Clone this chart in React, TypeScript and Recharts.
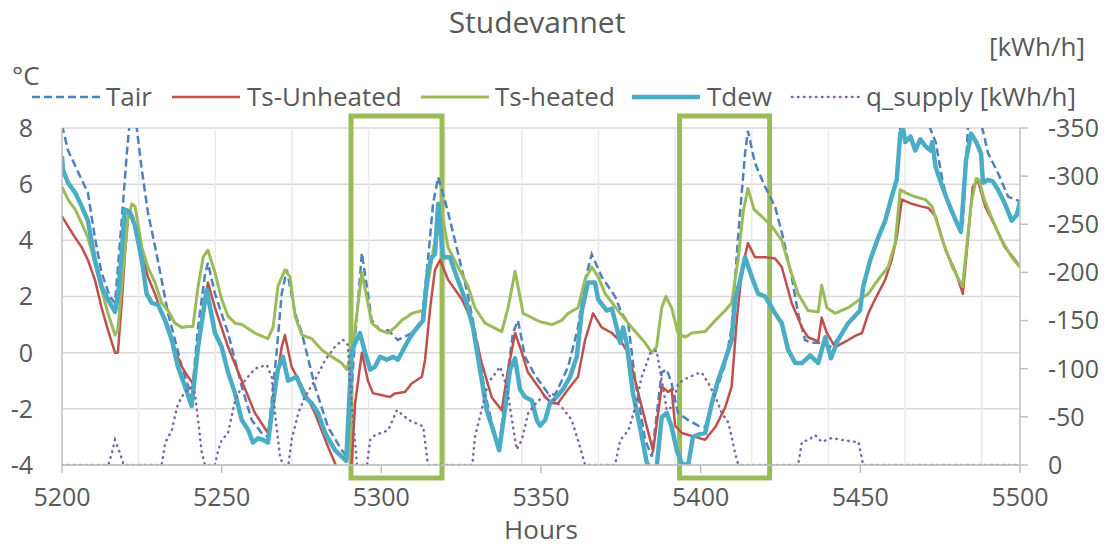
import React from 'react';
import {
    LineChart, Line, XAxis, YAxis, CartesianGrid, ReferenceArea, ReferenceLine
} from 'recharts';

// hours on x
const hourTicks = [5200, 5250, 5300, 5350, 5400, 5450, 5500];
const tempTicks = [-4, -2, 0, 2, 4, 6, 8];
const supplyTicks = [-350, -300, -250, -200, -150, -100, -50, 0];
const dayLines = [5224, 5248, 5272, 5296, 5320, 5344, 5368, 5392, 5416, 5440, 5464, 5488];
const highlights = [[5290.5, 5319.0], [5393.4, 5421.6]];

const tair = [
    [5200, 8.1], [5201.9, 7.2], [5206.2, 6.15], [5208.1, 5.7], [5210.3, 4.1], [5212.4, 2.84], [5215, 2.0],
    [5216.6, 1.77], [5218.7, 4.7], [5220.3, 7.1], [5221.5, 8.6], [5222.5, 8.6], [5223.4, 8.0], [5225, 6.5],
    [5226.9, 5.0], [5229.1, 3.8], [5231.2, 2.6], [5233.2, 1.4], [5235.4, 0.45], [5237.5, -0.5], [5239.5, -1.2],
    [5240.6, -1.6], [5242.6, 0.9], [5244.8, 2.8], [5245.7, 3.2], [5247.9, 2.1], [5252, 0.7], [5256.3, -1.2],
    [5259.4, -2.4], [5262.5, -2.86], [5264.5, -3.0], [5267.2, 0], [5268.8, 2.1], [5270.4, 2.95], [5273, 1.4],
    [5275.1, 0.7], [5279.2, -1.2], [5283.3, -2.65], [5287.6, -3.47], [5289.2, -3.7], [5291.8, 0.55],
    [5293.9, 3.55], [5295.8, 2.1], [5297, 1.15], [5299.6, 0.8], [5302.1, 0.8], [5305.2, 0.45], [5309.5, 0.7],
    [5312.7, 1.15], [5314.6, 3.3], [5316.2, 5.3], [5317.8, 6.25], [5320.9, 5.0], [5324, 3.55], [5327.2, 2.0],
    [5330.3, 0.2], [5332.5, -1.45], [5335.6, -3.0], [5336.9, -3.4], [5339.3, -1.0], [5341.2, 0.7],
    [5342.8, 1.15], [5345, -0.15], [5348.1, -0.8], [5352.2, -1.45], [5354.4, -1.5], [5356.5, -1.0],
    [5358.5, -0.5], [5361.6, 0.9], [5363.8, 2.6], [5365.9, 3.5], [5369, 2.7], [5373.2, 2.0], [5375.3, 1.4],
    [5377.3, 1.05], [5379.5, -1.0], [5382.6, -3.1], [5384.7, -3.7], [5387.8, -0.7], [5389.4, -0.6],
    [5390.9, -1.1], [5392.9, -2.15], [5396.1, -2.4], [5399.2, -2.6], [5401.4, -2.65], [5404.6, -1.45],
    [5407.7, -0.4], [5409.7, 0.9], [5411.7, 4.1], [5413.9, 7.1], [5414.8, 7.9], [5417, 6.75], [5420.2, 5.9],
    [5423.3, 5.2], [5425.8, 4.1], [5428.5, 2.7], [5430.5, 1.4], [5432.7, 0.45], [5434.8, 0.35], [5437.9, 0.35],
    [5441, 0.2], [5443, 0.5], [5446.2, 1.05], [5449.9, 1.5], [5450.9, 2.35], [5453.1, 3.3], [5455.6, 4.1],
    [5457.8, 4.7], [5459.8, 5.55], [5461.4, 6.3], [5462.5, 8.0], [5465.7, 8.6], [5470.4, 8.4], [5473.6, 7.5],
    [5475.7, 6.15], [5477.7, 5.2], [5480.8, 4.5], [5482.1, 4.6], [5483.7, 8.0], [5485.3, 8.8], [5487.2, 8.4],
    [5488.4, 7.9], [5490, 7.1], [5493.1, 6.4], [5496.3, 5.55], [5498.5, 5.45], [5500, 5.4],
];

const tsUnheated = [
    [5200, 4.85], [5201.9, 4.5], [5204.1, 4.1], [5206.2, 3.75], [5208.1, 3.3], [5210.3, 2.6], [5212.4, 1.6],
    [5214.4, 0.8], [5216.6, 0], [5217.5, 0], [5218.7, 1.77], [5219.7, 3.5], [5220.7, 4.85], [5222.2, 4.85],
    [5225, 3.55], [5226.9, 2.7], [5229.1, 2.1], [5231.2, 1.4], [5233.2, 0.8], [5235.4, 0.1], [5237.5, -0.5],
    [5239.5, -0.86], [5241, -1.1], [5243, 0.5], [5245.7, 2.5], [5247.9, 1.6], [5252, 0.2], [5256.3, -1.0],
    [5260.4, -2.15], [5264.5, -2.86], [5267.2, -1.0], [5268.8, 0.2], [5269.8, 0.63], [5271.9, -0.5],
    [5275.1, -1.2], [5279.2, -2.15], [5283.3, -3.35], [5286, -4.07], [5288.5, -4.6], [5290.7, -4.0],
    [5291.8, -1.8], [5293.9, 0], [5295.8, -1.0], [5297.4, -1.45], [5299.6, -1.5], [5302.7, -1.58],
    [5304.3, -1.45], [5307.4, -1.4], [5309.5, -1.1], [5312.7, -0.86], [5313.7, -0.25], [5315.3, 1.6],
    [5316.8, 2.95], [5318.4, 3.3], [5320.9, 2.6], [5325.2, 1.9], [5328.3, 1.15], [5331.4, -0.35],
    [5334.6, -1.6], [5337.7, -2.05], [5339.7, -0.6], [5341.9, 0.7], [5344, 0], [5345.9, -0.7], [5349.7, -1.3],
    [5351.3, -1.58], [5353.4, -1.8], [5355.3, -1.8], [5358.5, -1.3], [5361.6, -0.86], [5363.8, 0.45],
    [5366.3, 1.4], [5369, 0.9], [5372.2, 0.7], [5375.3, 0.35], [5377.3, 0], [5379.5, -1.0], [5382.6, -2.4],
    [5385.1, -3.5], [5387.8, -1.2], [5389.8, -1.4], [5390.9, -1.3], [5392, -2.6], [5394.1, -2.86],
    [5398.2, -3.0], [5401.4, -3.1], [5404.6, -2.65], [5407.7, -1.95], [5409.7, -1.2], [5411.3, 1.15],
    [5412.9, 2.95], [5414.8, 3.9], [5417, 3.4], [5420.2, 3.4], [5423.3, 3.35], [5425.4, 3.05], [5428.5, 1.77],
    [5431.7, 0.9], [5433.6, 0.55], [5436.8, 0.4], [5437.9, 1.25], [5439.5, 0.7], [5442.1, 0.2], [5446.2, 0.45],
    [5448.4, 0.6], [5450.5, 0.7], [5452.5, 1.4], [5454.6, 1.9], [5457.8, 2.6], [5459.8, 3.3], [5461.4, 4.1],
    [5463, 5.45], [5466.1, 5.3], [5469.3, 5.2], [5471.3, 5.15], [5473.6, 4.85], [5476.7, 3.65], [5479.9, 2.85],
    [5482.1, 2.1], [5485.2, 5.9], [5486.8, 6.15], [5489.1, 5.2], [5492.2, 4.5], [5495.3, 3.75], [5498.5, 3.3],
    [5500, 3.05],
];

const tsHeated = [
    [5200, 5.9], [5201.9, 5.45], [5204.1, 5.1], [5206.2, 4.6], [5208.1, 4.1], [5210.3, 3.2], [5212.4, 2.25],
    [5214.4, 1.4], [5216.6, 0.63], [5217.5, 0.8], [5219.1, 2.95], [5220.7, 4.85], [5221.9, 5.3], [5222.9, 5.2],
    [5225, 3.75], [5226.9, 3.05], [5229.1, 2.5], [5231.2, 1.77], [5233.2, 1.5], [5235.4, 1.05], [5237.5, 0.9],
    [5239.5, 0.93], [5241, 0.93], [5242.6, 2.35], [5244.2, 3.4], [5245.7, 3.65], [5247.9, 2.85], [5250, 1.9],
    [5252, 1.3], [5254.2, 1.05], [5256.3, 1.0], [5260.4, 0.7], [5264.5, 0.5], [5266.1, 0.9], [5267.6, 2.35],
    [5269.8, 2.95], [5271.4, 2.7], [5273, 1.3], [5275.1, 0.63], [5278.2, 0.5], [5281.3, 0.1], [5284.5, -0.15],
    [5287.6, -0.37], [5289.2, -0.6], [5291.1, 0.2], [5293.9, 2.85], [5295.8, 1.77], [5297, 1.05],
    [5299.6, 0.8], [5302.1, 0.7], [5304.3, 0.9], [5306.4, 1.15], [5308.4, 1.3], [5309.5, 1.4], [5313.1, 1.5],
    [5315.3, 2.95], [5317.3, 4.35], [5318.9, 5.0], [5320.9, 3.75], [5324, 3.05], [5327.2, 2.35], [5329.3, 1.6],
    [5332.5, 1.05], [5337.7, 0.75], [5339.7, 1.6], [5341.9, 2.9], [5344.4, 1.4], [5349.7, 1.1], [5353.4, 1.0],
    [5356.5, 1.15], [5358.5, 1.4], [5361.6, 1.6], [5363.8, 2.6], [5365.9, 3.05], [5367.9, 2.7], [5370.1, 2.1],
    [5374.1, 1.5], [5378.4, 0.9], [5382.6, 0.35], [5384.7, 0.0], [5386.2, 0.2], [5387.8, 1.6], [5389.1, 2.0],
    [5390.9, 1.6], [5392.9, 0.7], [5395.1, 0.55], [5397.2, 0.7], [5401.4, 0.75], [5404.6, 1.15],
    [5407.7, 1.5], [5409.7, 1.77], [5411.7, 3.3], [5413.3, 5.0], [5414.8, 5.85], [5416.7, 5.1], [5419.1, 4.85],
    [5422.3, 4.5], [5425.4, 4.0], [5427.4, 3.2], [5430.5, 2.1], [5433.6, 1.5], [5436.8, 1.45], [5437.9, 2.4],
    [5439.5, 1.6], [5442.1, 1.4], [5446.2, 1.6], [5449.9, 1.9], [5452.5, 2.1], [5455.6, 2.6], [5458.7, 3.05],
    [5460.9, 3.9], [5462.5, 5.8], [5464.1, 5.7], [5467.2, 5.55], [5470.4, 5.45], [5472.5, 5.2], [5475.7, 4.0],
    [5478.8, 3.05], [5482, 2.35], [5484.7, 5.3], [5486.3, 6.2], [5487.2, 6.15], [5488.8, 5.45], [5491.5, 4.7],
    [5494.3, 4.0], [5497.4, 3.4], [5500, 3.05],
];

const tdew = [
    [5200, 7.0], [5200.3, 6.5], [5201.9, 6.05], [5204.1, 5.7], [5206.2, 5.2], [5208.1, 4.7], [5210.3, 3.3],
    [5212.4, 2.35], [5214.4, 1.9], [5216.6, 1.45], [5217.5, 2.0], [5218.7, 3.55], [5219.7, 5.1], [5221.3, 5.0],
    [5222.9, 4.5], [5225, 3.3], [5226.5, 2.1], [5228.1, 1.77], [5230.1, 1.7], [5232.3, 1.15], [5234.4, 0.45],
    [5236.3, -0.5], [5238.5, -1.2], [5240.6, -1.9], [5242.6, 0.2], [5245.3, 2.25], [5247.9, 0.7], [5250, 0.2],
    [5252, -0.7], [5254.2, -1.45], [5256.3, -2.4], [5258.3, -2.75], [5259.8, -3.2], [5261.4, -3.05],
    [5262.9, -3.1], [5264.5, -3.2], [5266.1, -1.8], [5267.6, -0.6], [5269.2, -0.15], [5270.8, -1.0],
    [5273.5, -0.86], [5276.1, -1.58], [5278.2, -1.8], [5280.2, -2.15], [5282.4, -2.86], [5285.5, -3.47],
    [5289, -3.85], [5290.7, 0.0], [5291.8, 0.35], [5293.3, 0.7], [5294.9, 0], [5296.5, -0.6], [5298, -0.5],
    [5299.6, -0.15], [5301.7, -0.25], [5303.7, -0.15], [5305.2, -0.25], [5308, 0.35], [5309.9, 0.7],
    [5313.1, 1.15], [5314.6, 2.95], [5315.8, 3.4], [5316.8, 3.5], [5317.8, 5.3], [5319.3, 3.4], [5321.5, 3.4],
    [5323.6, 2.7], [5326.7, 1.77], [5328.7, 0.9], [5330.9, -0.6], [5333, -2.05], [5335, -2.75], [5336.9, -3.47],
    [5338.7, -2.05], [5340.3, -0.6], [5341.9, -0.2], [5343.4, -1.3], [5345, -1.58], [5347.1, -1.7],
    [5348.7, -2.4], [5349.7, -2.6], [5351.3, -2.4], [5352.8, -1.8], [5354.9, -1.58], [5356.9, -1.3],
    [5359.1, -0.86], [5361.2, -0.15], [5362.8, 1.5], [5364.7, 2.5], [5366.9, 2.5], [5367.9, 1.9],
    [5370.6, 1.5], [5372.2, 1.57], [5373.7, 0.9], [5374.8, 0.35], [5375.7, 0.9], [5376.8, 0.35],
    [5378.8, -1.45], [5381, -2.65], [5383.1, -3.9], [5384.5, -4.2], [5386.2, -4.1], [5387.8, -2.3],
    [5389.4, -2.15], [5390.9, -2.65], [5392.5, -3.47], [5394.1, -3.95], [5396.1, -4.0], [5397.6, -3.0],
    [5399.8, -2.9], [5401.4, -2.86], [5403.5, -1.8], [5405.4, -1.0], [5407.7, -0.25], [5409.7, 0.45],
    [5410.8, 1.9], [5412.4, 2.6], [5413.9, 3.4], [5416, 2.7], [5418, 2.1], [5420.2, 2.0], [5422.3, 1.6],
    [5423.3, 1.4], [5425.4, 1.05], [5427.4, 0.1], [5429.6, -0.37], [5431.7, -0.37], [5434.3, -0.1],
    [5436.8, -0.37], [5439, 0.55], [5440.8, -0.2], [5443, 0.45], [5446.2, 1.05], [5449.9, 1.5], [5450.9, 2.35],
    [5453.1, 3.3], [5455.6, 4.1], [5457.8, 4.7], [5459.8, 5.55], [5461.4, 6.15], [5462.5, 7.8], [5463.4, 7.95],
    [5464.1, 7.5], [5465.7, 7.7], [5467.2, 7.2], [5468.8, 7.6], [5470.4, 7.35], [5472, 7.2], [5472.5, 7.5],
    [5473.6, 6.6], [5475.7, 5.9], [5477.7, 5.3], [5479.9, 4.7], [5481.5, 4.3], [5483.1, 6.85], [5484.7, 7.8],
    [5486.3, 7.5], [5487.8, 7.1], [5488.4, 6.05], [5489.9, 6.15], [5491.5, 6.1], [5493.1, 5.8], [5495.3, 5.3],
    [5497.4, 4.7], [5499, 4.9], [5500, 5.37],
];

const qSupply = [
    [5200, 0], [5214.5, 0], [5215.6, -12], [5216.6, -26], [5218.2, -12], [5219.3, 0], [5231.2, 0],
    [5232.3, -23], [5234.4, -36], [5236, -60], [5237.5, -71], [5240.1, -81], [5241.6, -75], [5242.6, -47],
    [5243.8, -12], [5244.8, 0], [5247.9, 0], [5248.9, -15], [5250, -26], [5252, -33], [5254.2, -67],
    [5257.3, -88], [5260.4, -100], [5264.1, -104], [5265.7, -91], [5266.7, -54], [5268.3, -8], [5269.3, 0],
    [5270.9, 0], [5271.9, -26], [5274, -54], [5276.1, -71], [5279.2, -88], [5282.4, -109], [5285.5, -123],
    [5288, -130], [5289.5, -125], [5290.8, -60], [5292.4, 0], [5295.5, 0], [5296.5, -26], [5298, -31],
    [5302.1, -36], [5304.9, -57], [5308.4, -47], [5313.1, -40], [5314.6, 0], [5328.5, 0], [5329.3, -29],
    [5331.4, -57], [5333.4, -85], [5337.2, -102], [5339.3, -81], [5340.9, -47], [5342.4, -16], [5344, -26],
    [5346, -54], [5349.1, -67], [5352.3, -73], [5356.5, -60], [5359.6, -47], [5362.2, -19], [5363.8, 0],
    [5373.2, 0], [5374.8, -26], [5377.4, -36], [5379.5, -60], [5381.5, -91], [5384.2, -116], [5386.2, -119],
    [5387.8, -88], [5389.4, -57], [5390.9, -60], [5393, -85], [5396.2, -91], [5399.8, -96], [5400.3, -96],
    [5402.4, -85], [5404.6, -71], [5406.6, -54], [5408.7, -44], [5409.7, -29], [5410.8, -12], [5411.8, 0],
    [5430.5, 0], [5431.7, -24], [5433.8, -26], [5435.8, -31], [5437.9, -24], [5441, -28], [5444.2, -26],
    [5448.4, -24], [5449.4, -24], [5450.9, 0], [5500, 0],
];

const toPts = (a: number[][]) => a.map(([h, v]) => ({ h, v }));

const FONT = '"Open Sans", sans-serif';
const TXT = '#595959';
const GREEN_BOX = '#9BBB59';

const legendItems = [
    { name: 'Tair', color: '#4F81BD', width: 2.5, dash: '8 4', cap: 'butt', x: 32, tx: 106 },
    { name: 'Ts-Unheated', color: '#C0504D', width: 2.5, dash: undefined, cap: 'butt', x: 172, tx: 247 },
    { name: 'Ts-heated', color: '#9BBB59', width: 3, dash: undefined, cap: 'butt', x: 421, tx: 495 },
    { name: 'Tdew', color: '#4BACC6', width: 4.5, dash: undefined, cap: 'butt', x: 632, tx: 707 },
    { name: 'q_supply [kWh/h]', color: '#8064A2', width: 2.5, dash: '0.5 5.5', cap: 'round', x: 792, tx: 866 },
];

export default function App() {
    const tickStyle = { fill: TXT, fontSize: 25, fontFamily: FONT };
    return (
        <div style={{ position: 'relative', width: 1109, height: 547, background: '#fff', fontFamily: FONT }}>
            <style>{'body{margin:0}'}</style>
            <LineChart width={1109} height={547} margin={{ top: 128, right: 19, bottom: 42, left: 12 }}>
                <CartesianGrid yAxisId="left" vertical={false} stroke="#D9D9D9" strokeWidth={1.5} />
                {/* daily vertical gridlines */}
                {dayLines.map((h) => (
                    <ReferenceLine key={h} x={h} yAxisId="left" stroke="#EAEAEA" strokeWidth={1.5} zIndex={-50} />
                ))}
                <XAxis dataKey="h" type="number" domain={[5200, 5500]} ticks={hourTicks} interval={0}
                    height={40} tick={tickStyle} tickSize={8} tickMargin={15}
                    stroke="#BFBFBF" strokeWidth={1.5} allowDataOverflow />
                <YAxis yAxisId="left" type="number" domain={[-4, 8]} ticks={tempTicks} interval={0}
                    width={50} tick={tickStyle} tickLine={false} tickSize={0} tickMargin={29}
                    stroke="#BFBFBF" strokeWidth={1.5} allowDataOverflow />
                <YAxis yAxisId="right" orientation="right" type="number" domain={[-350, 0]} reversed
                    ticks={supplyTicks} interval={0} width={70} tick={{ ...tickStyle, textAnchor: 'start' }}
                    tickSize={8} tickMargin={20} stroke="#BFBFBF" strokeWidth={1.5} allowDataOverflow />

                <Line yAxisId="left" data={toPts(tair)} dataKey="v" name="Tair" type="linear"
                    stroke="#4F81BD" strokeWidth={2.5} strokeDasharray="8 4" dot={false} activeDot={false}
                    isAnimationActive={false} />
                <Line yAxisId="left" data={toPts(tsUnheated)} dataKey="v" name="Ts-Unheated" type="linear"
                    stroke="#C0504D" strokeWidth={2.5} strokeLinejoin="round" dot={false} activeDot={false}
                    isAnimationActive={false} />
                <Line yAxisId="left" data={toPts(tsHeated)} dataKey="v" name="Ts-heated" type="linear"
                    stroke="#9BBB59" strokeWidth={3} strokeLinejoin="round" dot={false} activeDot={false}
                    isAnimationActive={false} />
                <Line yAxisId="left" data={toPts(tdew)} dataKey="v" name="Tdew" type="linear"
                    stroke="#4BACC6" strokeWidth={4.5} strokeLinejoin="round" dot={false} activeDot={false}
                    isAnimationActive={false} />
                <Line yAxisId="right" data={toPts(qSupply)} dataKey="v" name="q_supply [kWh/h]" type="linear"
                    stroke="#8064A2" strokeWidth={2.5} strokeDasharray="0.5 5.5" strokeLinecap="round"
                    dot={false} activeDot={false} isAnimationActive={false} />

                {highlights.map(([a, b], i) => (
                    <ReferenceArea key={i} yAxisId="left" x1={a} x2={b} y1={-4.46} y2={8.43}
                        ifOverflow="visible" fill="none" fillOpacity={0} stroke={GREEN_BOX} strokeWidth={5} />
                ))}
            </LineChart>

            <svg width={1109} height={547} style={{ position: 'absolute', left: 0, top: 0, pointerEvents: 'none' }}>
                <g fontFamily={FONT} fill={TXT}>
                    <text x={537} y={33} fontSize={30} textAnchor="middle">Studevannet</text>
                    <text x={1085} y={56} fontSize={26} textAnchor="end">[kWh/h]</text>
                    <text x={12} y={85} fontSize={26}>°C</text>
                    <text x={541} y={539} fontSize={26} textAnchor="middle">Hours</text>
                    {legendItems.map((it) => (
                        <text key={it.name} x={it.tx} y={106} fontSize={26}>{it.name}</text>
                    ))}
                </g>
                {legendItems.map((it) => (
                    <line key={it.name} x1={it.x} x2={it.x + 68} y1={97} y2={97} stroke={it.color}
                        strokeWidth={it.width} strokeDasharray={it.dash} strokeLinecap={it.cap as any} />
                ))}
            </svg>
        </div>
    );
}
